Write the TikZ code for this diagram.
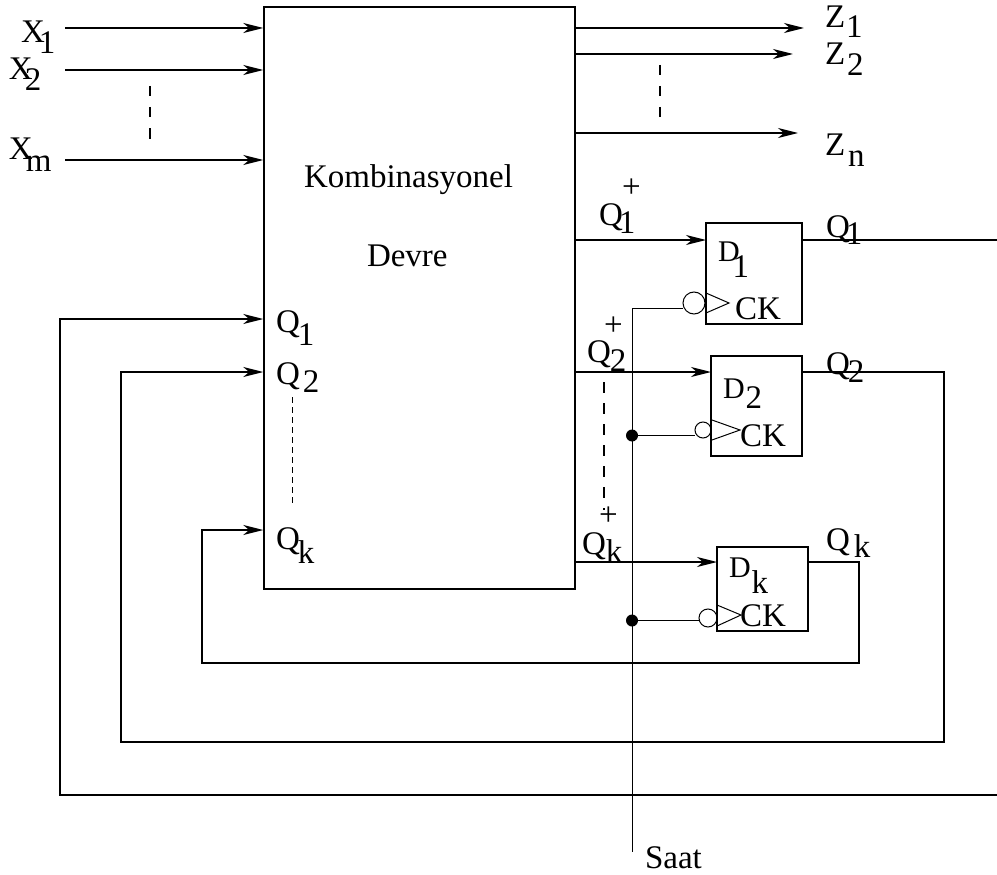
\documentclass[tikz,border=0pt]{standalone}
\usepackage{fontspec}
\setmainfont{Liberation Serif}
\usetikzlibrary{arrows.meta}
\newcommand{\lowsub}[3]{\kern#1pt\raisebox{-#2pt}{#3}}
\tikzset{
  x=1pt,y=-1pt,
  wire/.style={line width=1.5pt,black},
  thin wire/.style={line width=1pt,black},
  flow/.style={wire,-{Stealth[length=20pt,width=10pt,inset=6pt]}},
  block/.style={wire,fill=none},
  gapdash/.style={line width=1.2pt,dash pattern=on 10.5pt off 10.5pt},
  lab/.style={anchor=base west,inner sep=0pt,outer sep=0pt,font=\fontsize{33}{33}\selectfont},
  inv/.style={circle,draw,line width=1pt,inner sep=0pt,fill=none},
  jct/.style={circle,fill=black,inner sep=0pt,minimum size=12pt},
}
\begin{document}
\begin{tikzpicture}
\useasboundingbox (0,0) rectangle (997,875);
% blocks
\node[block,draw,minimum width=311pt,minimum height=582pt,inner sep=0pt] (K) at (419.5,298) {};
\node[block,draw,minimum width=96pt,minimum height=101pt,inner sep=0pt] (D1) at (754,273.5) {};
\node[block,draw,minimum width=91pt,minimum height=100pt,inner sep=0pt] (D2) at (756.5,406) {};
\node[block,draw,minimum width=91pt,minimum height=84pt,inner sep=0pt] (Dk) at (762.5,589) {};
% inputs
\coordinate (x1) at (65,28); \coordinate (x2) at (65,70); \coordinate (xm) at (65,160);
\draw[flow] (x1) -- (x1 -| K.west);
\draw[flow] (x2) -- (x2 -| K.west);
\draw[flow] (xm) -- (xm -| K.west);
\draw[gapdash] (150,86) -- (150,139);
% outputs
\coordinate (z1) at (804,28); \coordinate (z2) at (793,54); \coordinate (zn) at (798,133);
\draw[flow] (z1 -| K.east) -- (z1);
\draw[flow] (z2 -| K.east) -- (z2);
\draw[flow] (zn -| K.east) -- (zn);
\draw[gapdash] (660,65) -- (660,118);
% next state lines
\coordinate (q1i) at (706,240); \coordinate (q2i) at (711,372); \coordinate (qki) at (717,562);
\draw[flow] (q1i -| K.east) -- (q1i);
\draw[flow] (q2i -| K.east) -- (q2i);
\draw[flow] (qki -| K.east) -- (qki);
\draw[gapdash] (604,382) -- (604,510);
% feedback
\coordinate (r1) at (997,240);
\draw[wire] (r1 -| D1.east) -- (r1);
\coordinate (c1) at (997,795);
\coordinate (fb1) at (60,319);
\draw[flow] (c1) -- (fb1 |- c1) -- (fb1) -- (fb1 -| K.west);
\coordinate (c2) at (944,372);
\coordinate (fb2) at (121,372);
\draw[flow] (c2 -| D2.east) -- (c2) -- (944,742) -- (121,742) -- (fb2) -- (fb2 -| K.west);
\coordinate (c3) at (859,562);
\coordinate (fb3) at (202,530);
\draw[flow] (c3 -| Dk.east) -- (c3) -- (859,663) -- (202,663) -- (fb3) -- (fb3 -| K.west);
\draw[thin wire,dash pattern=on 6pt off 4pt] (292,397) -- (292,505);
% clock
\node[inv,minimum size=22pt] (i1) at (694,303) {};
\node[inv,minimum size=16pt] (i2) at (703,430) {};
\node[inv,minimum size=18pt] (ik) at (708,618) {};
\coordinate (saat) at (632,852);
\coordinate (ck1) at (632,308);
\draw[thin wire] (i1.west |- ck1) -- (ck1) -- (saat);
\node[jct] (j2) at (632,435.5) {};
\node[jct] (jk) at (632,620.5) {};
\draw[thin wire] (j2) -- (i2.west |- j2);
\draw[thin wire] (jk) -- (ik.west |- jk);
\draw[thin wire] (706,293) -- (729,303) -- (706,313);
\draw[thin wire] (712,420) -- (740,430) -- (712,440);
\draw[thin wire] (717,605) -- (741,615) -- (717,626);
% labels
\node[lab] (lx1) at (21,43) {X\lowsub{-6}{11}{1}};
\node[lab] (lx2) at (9,80) {X\lowsub{-8}{11}{2}};
\node[lab] (lxm) at (9,159) {X\lowsub{-7}{12}{m}};
\node[lab] (lz1) at (825,28) {Z\lowsub{1}{10}{1}};
\node[lab] (lz2) at (825,65) {Z\lowsub{2}{11}{2}};
\node[lab] (lzn) at (825,155) {Z\lowsub{3}{11}{n}};
\node[lab] (lk) at (304,187) {Kombinasyonel};
\node[lab] (ld) at (367,266) {Devre};
\node[lab] (la1) at (276,332) {Q\lowsub{-2}{13}{1}};
\node[lab] (la2) at (276,384) {Q\lowsub{3}{8}{2}};
\node[lab] (lak) at (276,549) {Q\lowsub{-2}{14}{k}};
\node[lab] (lp1) at (599,225) {Q\lowsub{-4}{8}{1}};
\node[lab] (lp2) at (587,362) {Q\lowsub{-1}{9}{2}};
\node[lab] (lpk) at (582,554) {Q\lowsub{0}{8}{k}};
\node[lab] (pp1) at (622,197) {+};
\node[lab] (pp2) at (604,335) {+};
\node[lab] (ppk) at (599,525) {+};
\node[lab] (lo1) at (826,237) {Q\lowsub{-4}{7}{1}};
\node[lab] (lo2) at (826,374) {Q\lowsub{-2}{8}{2}};
\node[lab] (lok) at (826,550) {Q\lowsub{4}{7}{k}};
\node[lab] (ld1) at (718,261) {\fontsize{30}{30}\selectfont D\lowsub{-7}{16}{\fontsize{33}{33}\selectfont 1}};
\node[lab] (ld2) at (723,398) {\fontsize{30}{30}\selectfont D\lowsub{1}{10}{\fontsize{33}{33}\selectfont 2}};
\node[lab] (ldk) at (729,577) {\fontsize{30}{30}\selectfont D\lowsub{1}{16}{\fontsize{33}{33}\selectfont k}};
\node[lab] (lc1) at (735,319) {CK};
\node[lab] (lc2) at (740,446) {CK};
\node[lab] (lck) at (740,626) {CK};
\node[lab] (ls) at (645,868) {Saat};
\end{tikzpicture}
\end{document}
